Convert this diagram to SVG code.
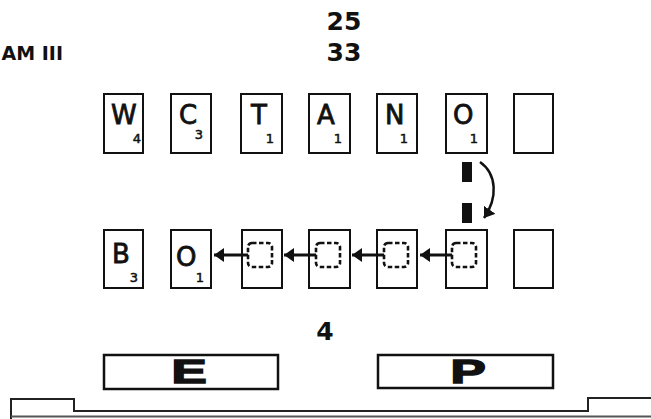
<svg xmlns="http://www.w3.org/2000/svg" width="651" height="419" viewBox="0 0 651 419">
<defs>
<style>
.tile{fill:#fff;stroke:#111;stroke-width:2}
.let{font-family:"DejaVu Sans",sans-serif;font-size:26px;fill:#111;stroke:#111;stroke-width:0.8}
.sub{font-family:"DejaVu Sans",sans-serif;font-size:13px;fill:#111;stroke:#111;stroke-width:0.5;text-anchor:end}
.dsq{fill:none;stroke:#111;stroke-width:2.6;stroke-dasharray:4.5 2.5}
.num{font-family:"DejaVu Sans",sans-serif;font-weight:bold;font-size:25px;fill:#111;text-anchor:middle}
.box{fill:#fff;stroke:#111;stroke-width:2.5}
.big{font-family:"Liberation Sans",Arial,sans-serif;font-weight:bold;font-size:33px;fill:#111;stroke:#111;stroke-width:1.5;text-anchor:middle}
.arr{stroke:#111;stroke-width:3;fill:none}
</style>
<marker id="ah" markerUnits="userSpaceOnUse" markerWidth="12" markerHeight="14" refX="10" refY="7" orient="auto">
<path d="M0,0 L10,7 L0,14 Z" fill="#111"/>
</marker>
</defs>
<rect width="651" height="419" fill="#fff"/>
<text x="63" y="60" text-anchor="end" style="font-family:'DejaVu Sans',sans-serif;font-weight:bold;font-size:19px;fill:#111">AM III</text>
<text class="num" x="344" y="30">25</text>
<text class="num" x="344" y="61">33</text>
<text class="num" x="325" y="340">4</text>

<g id="row1-W"><rect class="tile" x="104" y="94" width="39" height="59"/><text class="let" x="111" y="124">W</text><text class="sub" x="141" y="143">4</text></g>
<g id="row1-C"><rect class="tile" x="171" y="94" width="40" height="59"/><text class="let" x="179" y="124">C</text><text class="sub" x="203" y="139">3</text></g>
<g id="row1-T"><rect class="tile" x="241" y="94" width="41" height="59"/><text class="let" x="251" y="124">T</text><text class="sub" x="274" y="143">1</text></g>
<g id="row1-A"><rect class="tile" x="309" y="94" width="41" height="59"/><text class="let" x="317" y="124">A</text><text class="sub" x="342" y="143">1</text></g>
<g id="row1-N"><rect class="tile" x="377" y="94" width="40" height="59"/><text class="let" x="385" y="124">N</text><text class="sub" x="408" y="143">1</text></g>
<g id="row1-O"><rect class="tile" x="446" y="94" width="41" height="59"/><text class="let" x="453" y="124">O</text><text class="sub" x="478" y="143">1</text></g>
<g id="row1-blank"><rect class="tile" x="514" y="94" width="39" height="59"/></g>

<g id="row2-B"><rect class="tile" x="104" y="230" width="39" height="58"/><text class="let" x="112" y="263">B</text><text class="sub" x="138" y="282">3</text></g>
<g id="row2-O"><rect class="tile" x="171" y="230" width="40" height="58"/><text class="let" x="176" y="266">O</text><text class="sub" x="204" y="282">1</text></g>
<g id="row2-d1"><rect class="tile" x="242" y="230" width="40" height="58"/><rect class="dsq" x="248" y="243" width="24" height="24" rx="4"/></g>
<g id="row2-d2"><rect class="tile" x="309" y="230" width="41" height="58"/><rect class="dsq" x="316" y="243" width="24" height="24" rx="4"/></g>
<g id="row2-d3"><rect class="tile" x="377" y="230" width="40" height="58"/><rect class="dsq" x="384" y="243" width="24" height="24" rx="4"/></g>
<g id="row2-d4"><rect class="tile" x="446" y="230" width="41" height="58"/><rect class="dsq" x="452" y="243" width="24" height="24" rx="4"/></g>
<g id="row2-blank"><rect class="tile" x="514" y="230" width="39" height="58"/></g>

<g id="connectors">
<line class="arr" x1="248" y1="255" x2="214" y2="255" marker-end="url(#ah)"/>
<line class="arr" x1="316" y1="255" x2="284" y2="255" marker-end="url(#ah)"/>
<line class="arr" x1="384" y1="255" x2="352" y2="255" marker-end="url(#ah)"/>
<line class="arr" x1="452" y1="255" x2="420" y2="255" marker-end="url(#ah)"/>
<line x1="467" y1="162" x2="467" y2="225" stroke="#111" stroke-width="10" stroke-dasharray="20 21"/>
<path d="M480,162 C497,174 498,198 484,218" stroke="#111" stroke-width="2.5" fill="none" marker-end="url(#ah)"/>
</g>

<g id="box-E"><rect class="box" x="104" y="355" width="174" height="34"/><text class="big" transform="translate(189,383) scale(1.6,1)">E</text></g>
<g id="box-P"><rect class="box" x="378" y="355" width="175" height="33"/><text class="big" transform="translate(468,383) scale(1.6,1)">P</text></g>

<g id="base">
<path d="M11,419 V399 H74 V411 H588 V398 H651" fill="none" stroke="#222" stroke-width="2"/>
<line x1="11" y1="416.5" x2="651" y2="416.5" stroke="#555" stroke-width="2"/>
</g>
</svg>
